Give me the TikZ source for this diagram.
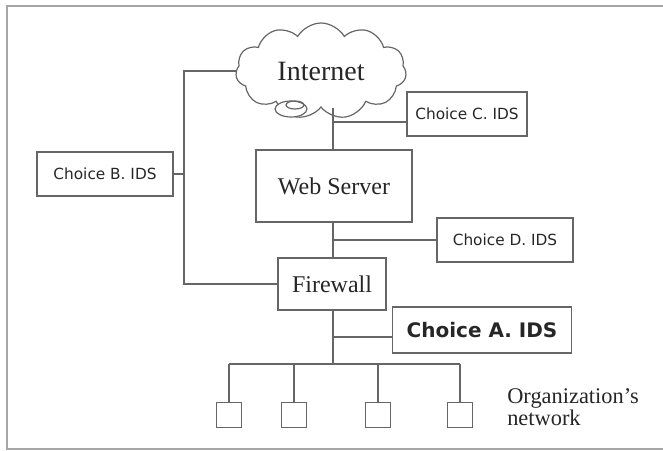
\documentclass[tikz,border=0pt]{standalone}
\usepackage{fontspec}
\setmainfont{Liberation Serif}
\newfontfamily\idsfont{DejaVu Sans}
\usetikzlibrary{shapes.symbols}
\tikzset{
  wire/.style={draw=black!60, line width=0.9pt},
  unit/.style={draw=black!60, line width=0.9pt, text=black!85, inner sep=0pt},
  idsbox/.style={unit, minimum height=33pt, font=\idsfont\fontsize{11.5}{13}\selectfont},
}

\begin{document}
\begin{tikzpicture}[x=0.75pt,y=-0.75pt]
  \useasboundingbox (0,0) rectangle (663,450);
  \draw[black!35, line width=0.8pt] (663,6) -- (7,6) -- (7,449) -- (663,449);

  \node[unit, cloud, cloud puffs=11, cloud puff arc=120, cloud ignores aspect,
        minimum width=128pt, minimum height=72pt,
        font=\fontsize{21}{24}\selectfont] (inet) at (321,71) {Internet};
  \draw[wire, fill=white] (291,109) ellipse (16 and 8);
  \draw[wire] (295,105) ellipse (9 and 4);

  \node[unit, minimum width=117pt, minimum height=54pt, font=\fontsize{18}{20}\selectfont] (web) at (334,186) {Web Server};
  \node[unit, minimum width=81pt, minimum height=39pt, font=\fontsize{18}{20}\selectfont] (fw) at (332,284) {Firewall};

  \node[idsbox, minimum width=102pt] (idsB) at (105,174) {Choice B. IDS};
  \node[idsbox, minimum width=90pt] (idsC) at (467,114) {Choice C. IDS};
  \node[idsbox, minimum width=102pt] (idsD) at (505,240) {Choice D. IDS};
  \node[idsbox, minimum width=134pt, minimum height=34.5pt,
        font=\idsfont\bfseries\fontsize{15}{17}\selectfont] (idsA) at (482,330) {Choice A. IDS};

  % trunk
  \coordinate (tapC) at (333,122);
  \coordinate (tapD) at (333,240);
  \coordinate (tapA) at (333,337);
  \coordinate (bus) at (333,364);
  \coordinate (tapB) at (184,174);
  \draw[wire] (inet.south -| tapC) -- (web.north -| tapC);
  \draw[wire] (web.south -| tapD) -- (fw.north -| tapD);
  \draw[wire] (fw.south -| tapA) -- (bus);
  \draw[wire] (tapC) -- (tapC -| idsC.west);
  \draw[wire] (tapD) -- (tapD -| idsD.west);
  \draw[wire] (tapA) -- (tapA -| idsA.west);
  \draw[wire] (inet.west) -- (inet.west -| tapB) |- (fw.west);
  \draw[wire] (idsB.east) -- (tapB);

  \draw[wire] (229,364) -- (460,364);
  \foreach \hx [count=\i] in {229,294,378,460} {
    \node[unit, minimum size=18.75pt] (host\i) at (\hx,415) {};
    \draw[wire] (\hx,364) -- (host\i.north);
  }
  \node[anchor=west, align=left, text=black!85, inner sep=0pt,
        font=\fontsize{16.8}{15}\selectfont] (org) at (507,407) {Organization’s\\network};
\end{tikzpicture}
\end{document}
